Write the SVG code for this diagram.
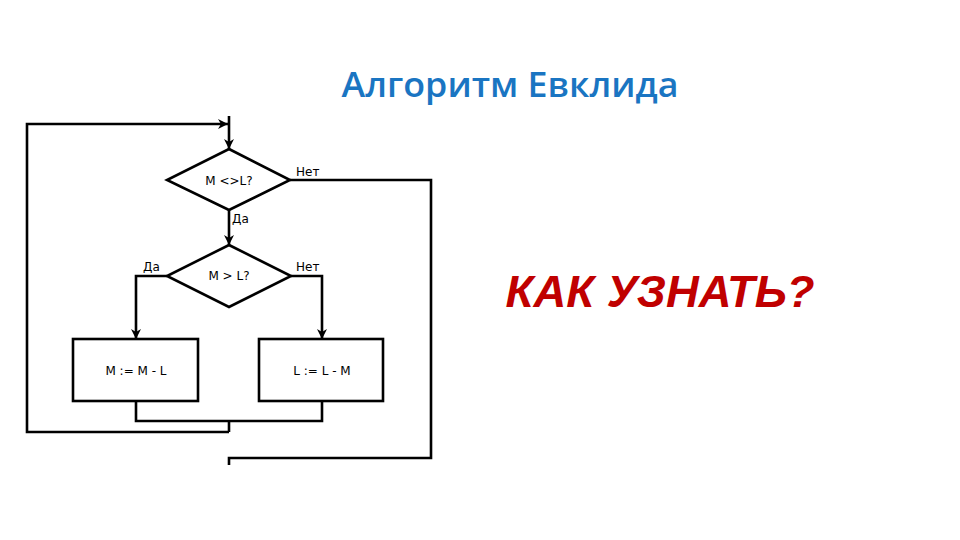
<svg xmlns="http://www.w3.org/2000/svg" width="960" height="540" viewBox="0 0 960 540">
<defs>
<marker id="arr" viewBox="0 0 10 10" refX="10" refY="5" markerWidth="12" markerHeight="10" markerUnits="userSpaceOnUse" orient="auto">
<path d="M0,0 L10,5 L0,10 L3,5 Z" fill="#000"/>
</marker>
<style>
.shape{fill:#fff;stroke:#000;stroke-width:2.6}
.line{fill:none;stroke:#000;stroke-width:2.6}
.lbl{font-family:"DejaVu Sans",sans-serif;font-size:12px;fill:#000}
.in{font-family:"DejaVu Sans",sans-serif;font-size:12px;fill:#000;text-anchor:middle}
</style>
</defs>
<rect width="960" height="540" fill="#fff"/>
<text x="510" y="97" font-family="'Open Sans',sans-serif" font-size="34" font-weight="600" fill="#1a75c2" text-anchor="middle" textLength="337" lengthAdjust="spacingAndGlyphs">Алгоритм Евклида</text>
<text x="660" y="307" font-family="'Liberation Sans',sans-serif" font-size="45" font-weight="bold" font-style="italic" fill="#c00000" text-anchor="middle" textLength="309" lengthAdjust="spacingAndGlyphs">КАК УЗНАТЬ?</text>
<g id="connectors">
<path class="line" d="M229,116 V149" marker-end="url(#arr)"/>
<path class="line" d="M229,432 H27 V124 H228" marker-end="url(#arr)"/>
<path class="line" d="M290,180 H431 V458 H229 V465"/>
<path class="line" d="M229,210 V245" marker-end="url(#arr)"/>
<path class="line" d="M167,276 H136 V339" marker-end="url(#arr)"/>
<path class="line" d="M291,276 H322 V339" marker-end="url(#arr)"/>
<path class="line" d="M136,401 V421 H322 V401"/>
<path class="line" d="M229,421 V432"/>
<text class="lbl" x="296" y="176">Нет</text>
<text class="lbl" x="232" y="223">Да</text>
<text class="lbl" x="143" y="271">Да</text>
<text class="lbl" x="296" y="271">Нет</text>
</g>
<g id="cond1">
<polygon class="shape" points="229,149 290,180 229,210 167,180"/>
<text class="in" x="229" y="185">M &lt;&gt;L?</text>
</g>
<g id="cond2">
<polygon class="shape" points="229,245 291,276 229,307 167,276"/>
<text class="in" x="229" y="280">M &gt; L?</text>
</g>
<g id="boxM">
<rect class="shape" x="73" y="339" width="125" height="62"/>
<text class="in" x="136" y="375">M := M - L</text>
</g>
<g id="boxL">
<rect class="shape" x="259" y="339" width="124" height="62"/>
<text class="in" x="322" y="375">L := L - M</text>
</g>
</svg>
